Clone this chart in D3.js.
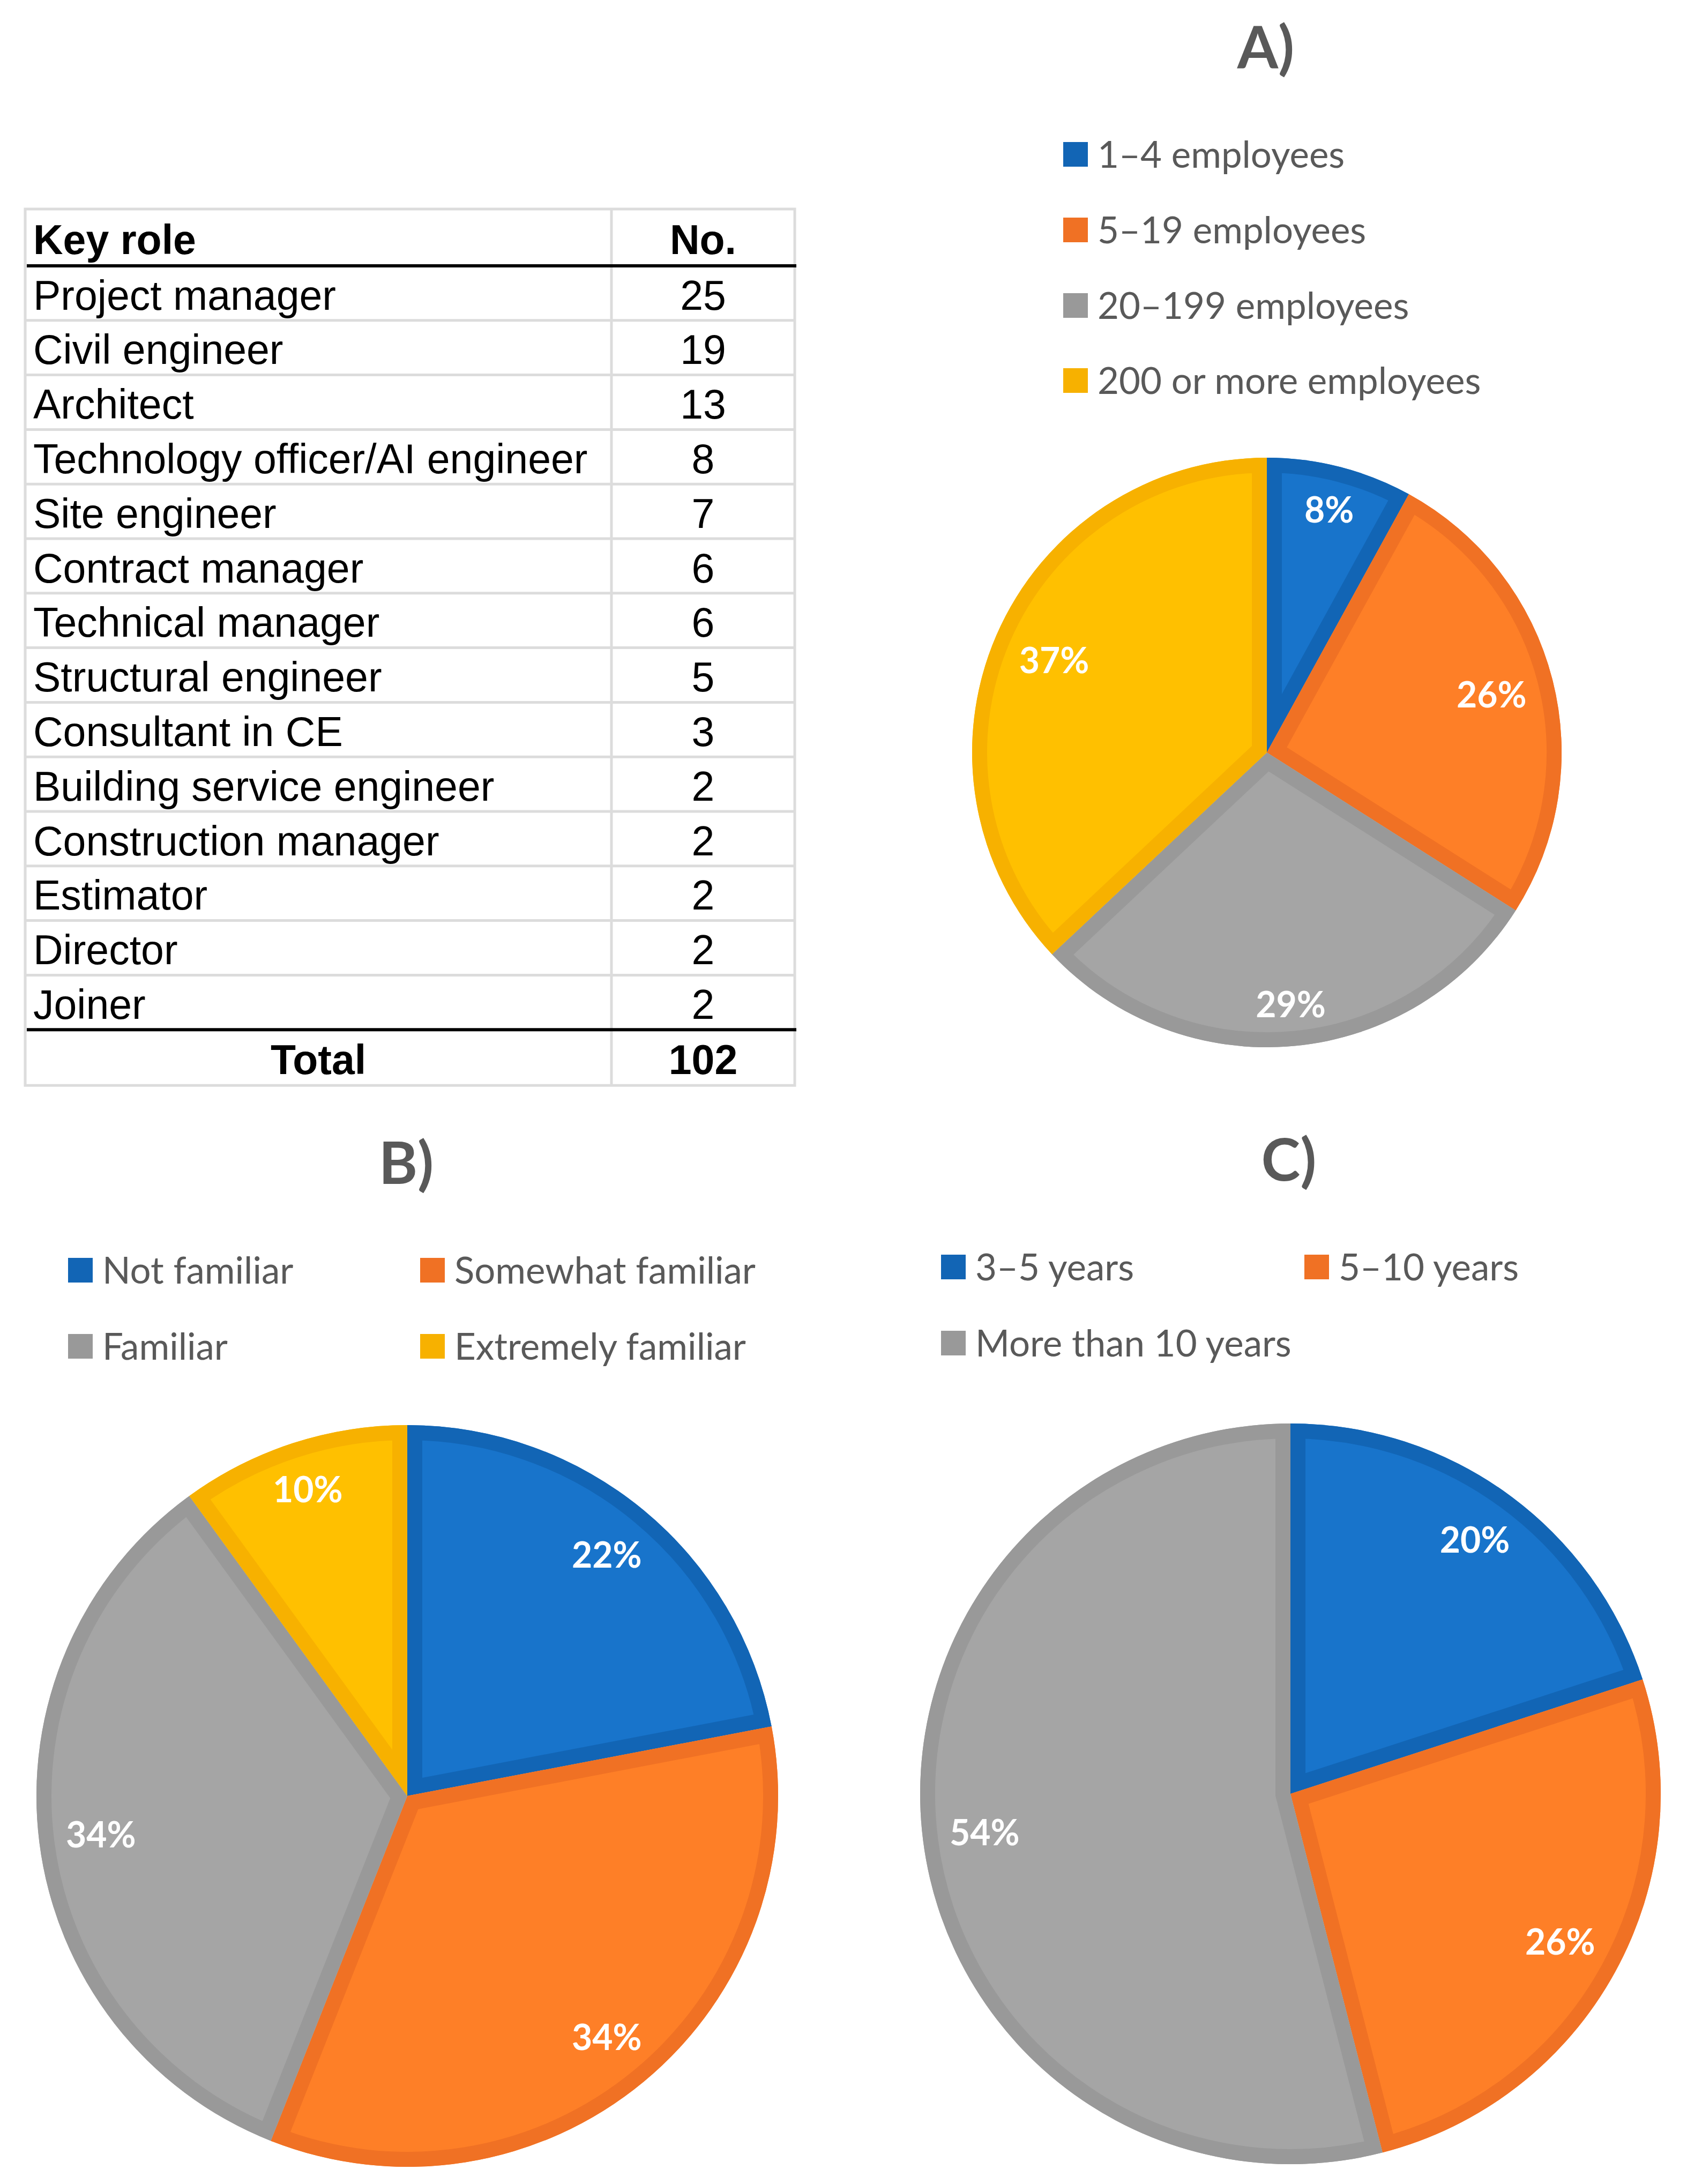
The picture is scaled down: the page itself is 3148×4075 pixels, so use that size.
<!DOCTYPE html>
<html>
<head>
<meta charset="utf-8">
<script src="https://cdn.jsdelivr.net/npm/d3@7/dist/d3.min.js"></script>
<style>
  html, body { margin: 0; padding: 0; background: #ffffff; }
  svg { display: block; }
</style>
</head>
<body>
<svg id="chart" width="3148" height="4075"></svg>
<script>
// ---------------- DATA ----------------
const tableHeader = ["Key role", "No."];
const roles = ["Project manager", "Civil engineer", "Architect", "Technology officer/AI engineer",
  "Site engineer", "Contract manager", "Technical manager", "Structural engineer",
  "Consultant in CE", "Building service engineer", "Construction manager", "Estimator",
  "Director", "Joiner"];
const roleCounts = [25, 19, 13, 8, 7, 6, 6, 5, 3, 2, 2, 2, 2, 2];
const totalLabel = "Total";
const totalCount = 102;

const sizeCategories = ["1–4 employees", "5–19 employees", "20–199 employees", "200 or more employees"];
const sizeValues = [8, 26, 29, 37];

const familiarityCategories = ["Not familiar", "Somewhat familiar", "Familiar", "Extremely familiar"];
const familiarityValues = [22, 34, 34, 10];

const experienceCategories = ["3–5 years", "5–10 years", "More than 10 years"];
const experienceValues = [20, 26, 54];

const panelTitles = ["A)", "B)", "C)"];

// ---------------- STYLE ----------------
const fillColors = ["#1874CB", "#FE7F27", "#A5A5A5", "#FFC000"];
const borderColors = ["#1265B5", "#F07124", "#999999", "#F7B100"];
const textGray = "#595959";
const chartFont = "Lato, 'Open Sans', sans-serif";
const tableFont = "'Liberation Sans', Arial, sans-serif";

const svg = d3.select("#chart");
svg.append("rect").attr("width", 3148).attr("height", 4075).attr("fill", "#fff");

// ---------------- TABLE ----------------
const tbl = { x0: 47, x1: 1483, xSep: 1141, top: 390, headBottom: 496, rowH: 101.8, totalH: 104, fs: 77 };
const nRows = roles.length;
const totalTop = tbl.headBottom + nRows * tbl.rowH;
const tblBottom = totalTop + tbl.totalH;
const rowY = d3.scaleLinear().domain([0, nRows]).range([tbl.headBottom, totalTop]);
const gT = svg.append("g");
const gridCol = "#DCDCDC";

d3.range(1, nRows).forEach(k => {
  gT.append("line").attr("x1", tbl.x0).attr("x2", tbl.x1)
    .attr("y1", rowY(k)).attr("y2", rowY(k))
    .attr("stroke", gridCol).attr("stroke-width", 5);
});
gT.append("line").attr("x1", tbl.xSep).attr("x2", tbl.xSep)
  .attr("y1", tbl.top).attr("y2", tblBottom).attr("stroke", gridCol).attr("stroke-width", 5);
gT.append("rect").attr("x", tbl.x0).attr("y", tbl.top)
  .attr("width", tbl.x1 - tbl.x0).attr("height", tblBottom - tbl.top)
  .attr("fill", "none").attr("stroke", gridCol).attr("stroke-width", 5);
[tbl.headBottom, totalTop].forEach(y => {
  gT.append("line").attr("x1", tbl.x0 + 3).attr("x2", tbl.x1 + 3)
    .attr("y1", y).attr("y2", y).attr("stroke", "#000").attr("stroke-width", 6);
});

const baseOff = tbl.fs * 0.36 + 3;
const col2C = (tbl.xSep + tbl.x1) / 2;
const col1C = (tbl.x0 + tbl.xSep) / 2;
const headC = (tbl.top + tbl.headBottom) / 2;
const textX = 62;
gT.append("text").attr("x", textX).attr("y", headC + baseOff).text(tableHeader[0])
  .attr("font-family", tableFont).attr("font-size", tbl.fs).attr("font-weight", "bold").attr("fill", "#000");
gT.append("text").attr("x", col2C).attr("y", headC + baseOff).text(tableHeader[1])
  .attr("text-anchor", "middle")
  .attr("font-family", tableFont).attr("font-size", tbl.fs).attr("font-weight", "bold").attr("fill", "#000");

roles.forEach((r, i) => {
  const cy = (rowY(i) + rowY(i + 1)) / 2;
  gT.append("text").attr("x", textX).attr("y", cy + baseOff).text(r)
    .attr("font-family", tableFont).attr("font-size", tbl.fs).attr("fill", "#000");
  gT.append("text").attr("x", col2C).attr("y", cy + baseOff).text(roleCounts[i])
    .attr("text-anchor", "middle")
    .attr("font-family", tableFont).attr("font-size", tbl.fs).attr("fill", "#000");
});
const totC = (totalTop + tblBottom) / 2;
gT.append("text").attr("x", col1C).attr("y", totC + baseOff).text(totalLabel)
  .attr("text-anchor", "middle")
  .attr("font-family", tableFont).attr("font-size", tbl.fs).attr("font-weight", "bold").attr("fill", "#000");
gT.append("text").attr("x", col2C).attr("y", totC + baseOff).text(totalCount)
  .attr("text-anchor", "middle")
  .attr("font-family", tableFont).attr("font-size", tbl.fs).attr("font-weight", "bold").attr("fill", "#000");

// ---------------- PIES ----------------
const panels = [
  { id: "A", title: panelTitles[0], cats: sizeCategories, vals: sizeValues,
    cx: 2364, cy: 1404, r: 550, titleX: 2362, titleY: 127,
    legend: { cols: 1, colX: [1984], rowY: [288, 429, 570, 710] } },
  { id: "B", title: panelTitles[1], cats: familiarityCategories, vals: familiarityValues,
    cx: 760, cy: 3351, r: 692, titleX: 758, titleY: 2209,
    legend: { cols: 2, colX: [127, 784], rowY: [2370, 2512] } },
  { id: "C", title: panelTitles[2], cats: experienceCategories, vals: experienceValues,
    cx: 2408, cy: 3347, r: 691, titleX: 2405, titleY: 2203,
    legend: { cols: 2, colX: [1756, 2434], rowY: [2364, 2506] } }
];

const borderW = 28;
const labelFs = 66;
const legendFs = 69;
const markerS = 46;
const pie = d3.pie().sort(null).value(d => d);

panels.forEach(p => {
  const g = svg.append("g").attr("transform", `translate(${p.cx},${p.cy})`);
  const arc = d3.arc().innerRadius(0).outerRadius(p.r);
  const arcs = pie(p.vals);

  arcs.forEach((a, i) => {
    const clipId = `clip-${p.id}-${i}`;
    g.append("clipPath").attr("id", clipId).append("path").attr("d", arc(a));
    g.append("path").attr("d", arc(a)).attr("fill", fillColors[i]);
    g.append("path").attr("d", arc(a)).attr("fill", "none")
      .attr("stroke", borderColors[i]).attr("stroke-width", borderW * 2)
      .attr("stroke-linejoin", "miter")
      .attr("clip-path", `url(#${clipId})`);
  });

  // labels: "inside end"
  const pad = 48;
  arcs.forEach((a, i) => {
    const t = g.append("text").text(Math.round(a.value / d3.sum(p.vals) * 100) + "%")
      .attr("font-family", chartFont).attr("font-size", labelFs).attr("font-weight", "bold")
      .attr("fill", "#fff").attr("text-anchor", "middle");
    const w = t.node().getBBox().width;
    const h = labelFs * 0.72;
    const th = (a.startAngle + a.endAngle) / 2;
    const ext = Math.abs(Math.sin(th)) * w / 2 + Math.abs(Math.cos(th)) * h / 2;
    const d = p.r - pad - ext;
    const x = Math.sin(th) * d, y = -Math.cos(th) * d;
    t.attr("x", x).attr("y", y + h / 2);
  });

  // title
  svg.append("text").attr("x", p.titleX).attr("y", p.titleY).text(p.title)
    .attr("text-anchor", "middle").attr("font-family", chartFont)
    .attr("font-size", 110).attr("font-weight", "bold").attr("fill", textGray);

  // legend
  const lg = svg.append("g");
  p.cats.forEach((c, i) => {
    const col = i % p.legend.cols, row = Math.floor(i / p.legend.cols);
    const x = p.legend.colX[col], y = p.legend.rowY[row];
    lg.append("rect").attr("x", x).attr("y", y - markerS / 2)
      .attr("width", markerS).attr("height", markerS).attr("fill", borderColors[i]);
    lg.append("text").attr("x", x + markerS + 18).attr("y", y + legendFs * 0.36)
      .text(c).attr("font-family", chartFont).attr("font-size", legendFs).attr("fill", textGray);
  });
});
</script>
</body>
</html>
